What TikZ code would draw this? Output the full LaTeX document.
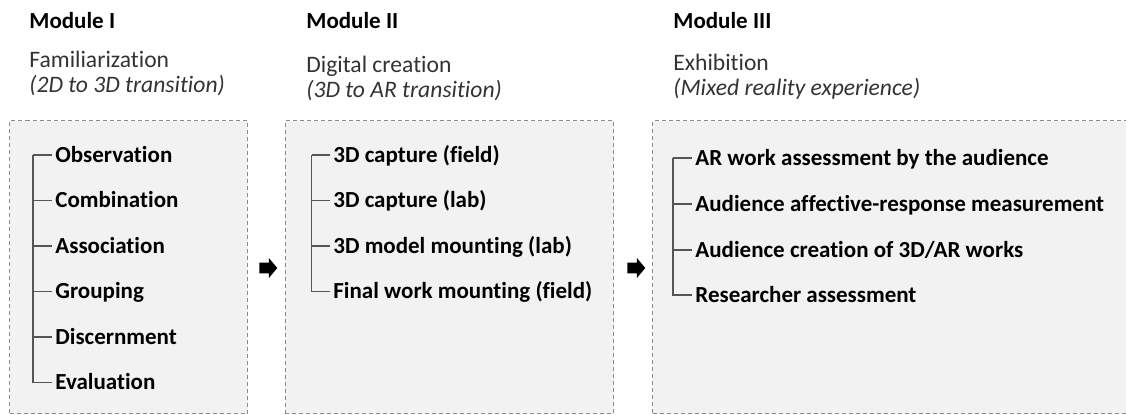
\documentclass[tikz,border=0pt]{standalone}
\usepackage{fontspec}
\setmainfont{Carlito}[Ligatures=NoCommon]
\usetikzlibrary{shapes.arrows}
\definecolor{boxgray}{HTML}{F2F2F2}
\definecolor{edgegray}{HTML}{8C8C8C}
\definecolor{treegray}{HTML}{555555}
\definecolor{subgray}{HTML}{333333}
\begin{document}
\begin{tikzpicture}[x=0.5pt,y=-0.5pt,every node/.style={font=\fontsize{11.5}{13}\selectfont,inner sep=0pt},
  modbox/.style={draw=edgegray,fill=boxgray,line width=0.5pt,dash pattern=on 2pt off 1.5pt,anchor=north west,minimum height=146.5pt},
  modtitle/.style={anchor=base west,font=\fontsize{11.5}{13}\selectfont\bfseries},
  modsub/.style={anchor=base west,text=subgray,font=\fontsize{11.8}{13}\selectfont},
  item/.style={anchor=base west,inner xsep=1.5pt,font=\fontsize{11.5}{13}\selectfont\bfseries},
  treeline/.style={draw=treegray,line width=0.6pt},
  nextarrow/.style={shape=single arrow,fill=black,inner xsep=0pt,inner ysep=2.5pt,minimum height=9pt,single arrow head extend=2.25pt,single arrow tip angle=100}]
\useasboundingbox (0,0) rectangle (1126,414);
% module headers
\node[modtitle] (t1) at (29,28) {Module I};
\node[modsub] (s1) at (29,67) {Familiarization};
\node[modsub] (i1) at (29,92) {\itshape (2D to 3D transition)};
\node[modtitle] (t2) at (306,28) {Module II};
\node[modsub] (s2) at (306,72) {Digital creation};
\node[modsub] (i2) at (306,97) {\itshape (3D to AR transition)};
\node[modtitle] (t3) at (673,28) {Module III};
\node[modsub] (s3) at (673,70) {Exhibition};
\node[modsub] (i3) at (673,95) {\itshape (Mixed reality experience)};
% boxes
\node[modbox,minimum width=119pt] (b1) at (9,120) {};
\node[modbox,minimum width=164.25pt] (b2) at (284.5,120) {};
\node[modbox,minimum width=241.5pt] (b3) at (652,120) {};
\node[nextarrow] (n1) at (266,268) {};
\node[nextarrow] (n2) at (634,268) {};
% module I
\node[item] (a1) at (52,162) {Observation};
\node[item] (a2) at (52,207.5) {Combination};
\node[item] (a3) at (52,253) {Association};
\node[item] (a4) at (52,298.5) {Grouping};
\node[item] (a5) at (52,344) {Discernment};
\node[item] (a6) at (52,389.5) {Evaluation};
\coordinate (a0) at (33,155);
\foreach \target in {a1,a2,a3,a4,a5,a6} \draw[treeline] (a0) |- ([yshift=3.5pt]\target.base west);
% module II
\node[item] (d1) at (330,162) {3D capture (field)};
\node[item] (d2) at (330,207.5) {3D capture (lab)};
\node[item] (d3) at (330,253) {3D model mounting (lab)};
\node[item] (d4) at (330,298.5) {Final work mounting (field)};
\coordinate (d0) at (311.5,155);
\foreach \target in {d1,d2,d3,d4} \draw[treeline] (d0) |- ([yshift=3.5pt]\target.base west);
% module III
\node[item] (e1) at (692,165) {AR work assessment by the audience};
\node[item] (e2) at (692,211) {Audience affective-response measurement};
\node[item] (e3) at (692,257) {Audience creation of 3D/AR works};
\node[item] (e4) at (692,302) {Researcher assessment};
\coordinate (e0) at (673,158);
\foreach \target in {e1,e2,e3,e4} \draw[treeline] (e0) |- ([yshift=3.5pt]\target.base west);
\end{tikzpicture}
\end{document}
